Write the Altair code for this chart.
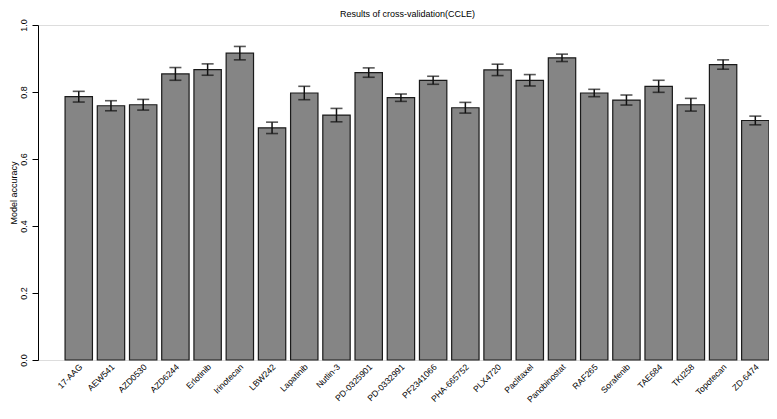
import altair as alt
import pandas as pd

drugs = ["17-AAG", "AEW541", "AZD0530", "AZD6244", "Erlotinib", "Irinotecan",
         "LBW242", "Lapatinib", "Nutlin-3", "PD-0325901", "PD-0332991",
         "PF2341066", "PHA-665752", "PLX4720", "Paclitaxel", "Panobinostat",
         "RAF265", "Sorafenib", "TAE684", "TKI258", "Topotecan", "ZD-6474"]
accuracy = [0.786, 0.759, 0.762, 0.854, 0.867, 0.916, 0.693, 0.797, 0.731,
            0.858, 0.783, 0.835, 0.753, 0.866, 0.835, 0.902, 0.797, 0.776,
            0.817, 0.762, 0.882, 0.715]
error = [0.016, 0.015, 0.016, 0.019, 0.017, 0.020, 0.017, 0.020, 0.020,
         0.014, 0.011, 0.012, 0.016, 0.017, 0.017, 0.011, 0.011, 0.015,
         0.018, 0.019, 0.014, 0.013]
y_ticks = [0.0, 0.2, 0.4, 0.6, 0.8, 1.0]

df = pd.DataFrame({"drug": drugs, "acc": accuracy, "err": error})
df["lo"] = df["acc"] - df["err"]
df["hi"] = df["acc"] + df["err"]

FONT = "Liberation Sans"
H = 335

xscale = alt.Scale(domain=drugs, paddingInner=0.15, paddingOuter=0.42, align=1)
yscale = alt.Scale(domain=[0, 1], nice=False, zero=True)

x_enc = alt.X("drug:N", scale=xscale, sort=drugs,
              axis=alt.Axis(title=None, labelAngle=-45, labelAlign="right",
                            labelBaseline="middle", labelPadding=5, labelOffset=2,
                            domain=False, ticks=False, tickSize=0,
                            labelFontSize=8.6, labelFont=FONT, labelColor="black",
                            labelOverlap=False, labelBound=False))

base = alt.Chart(df)

bars = base.mark_bar(fill="#858585", stroke="#1a1a1a", strokeWidth=1.2).encode(
    x=x_enc,
    y=alt.Y("acc:Q", scale=yscale,
            axis=alt.Axis(title="Model accuracy", values=y_ticks, format=".1f",
                          labelAngle=-90, labelAlign="center", labelBaseline="middle",
                          labelPadding=9, tickSize=6, tickColor="black",
                          domainColor="black", labelFontSize=9, labelFont=FONT,
                          labelColor="black", grid=False,
                          titleFontSize=9, titleFont=FONT, titleFontWeight="normal",
                          titleColor="black", titleAngle=-90, titleBaseline="middle",
                          titleAlign="center", titleX=-25, titleY=H / 2)),
)

rules = base.mark_rule(color="#111111", strokeWidth=1.5).encode(
    x=alt.X("drug:N", scale=xscale, sort=drugs),
    y=alt.Y("lo:Q", scale=yscale),
    y2="hi:Q",
)

caps_hi = base.mark_tick(color="#111111", size=12, thickness=1.6).encode(
    x=alt.X("drug:N", scale=xscale, sort=drugs),
    y=alt.Y("hi:Q", scale=yscale),
)
caps_lo = base.mark_tick(color="#111111", size=12, thickness=1.6).encode(
    x=alt.X("drug:N", scale=xscale, sort=drugs),
    y=alt.Y("lo:Q", scale=yscale),
)

chart = alt.layer(bars, rules, caps_hi, caps_lo).properties(
    width=731,
    height=H,
    title=alt.TitleParams("Results of cross-validation(CCLE)", fontSize=9,
                          font=FONT, fontWeight="normal", color="black",
                          anchor="middle", frame="group", offset=0, dx=4),
    autosize=alt.AutoSizeParams(type="none"),
    padding={"left": 30, "top": 17, "right": 0, "bottom": 46},
).configure_view(stroke=None).configure(background="white")

chart.save("out.html", embed_options={"renderer": "svg", "actions": False})
